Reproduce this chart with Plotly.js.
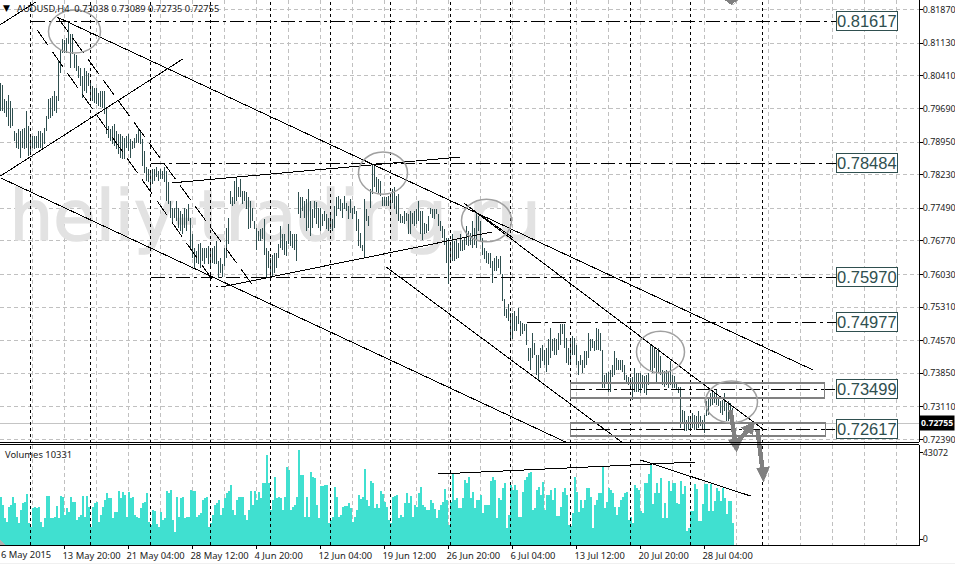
<!DOCTYPE html>
<html>
<head>
<meta charset="utf-8">
<script src="https://cdn.plot.ly/plotly-3.0.0.min.js"></script>
<style>html,body{margin:0;padding:0;background:#fff;overflow:hidden}#c{width:955px;height:564px}
.scatterlayer path.js-line,.shapelayer path,.gridlayer path{shape-rendering:crispEdges}
.shapelayer path[d*="A"]{shape-rendering:auto}
.scatterlayer .textpoint text{stroke:#e2e2e2;stroke-width:1.4px}</style>
</head>
<body>
<div id="c"></div>
<script>
const highs = [
.8026,.8021,.7990,.7986,.7999,.7986,.7971,.7920,.7915,.7924,
.7920,.7924,.7926,.7964,.7931,.7913,.7909,.7909,.7909,.7920,
.7920,.7915,.7926,.7953,.7990,.7993,.7997,.8008,.7997,.8074,
.8097,.8121,.8119,.8125,.8158,.8134,.8134,.8090,.8086,.8063,
.8059,.8041,.8059,.8052,.8048,.8024,.8019,.8015,.8013,.8004,.8008,
.8008,.8008,.7971,.7931,.7924,.7931,.7935,.7920,.7913,.7913,.7909,
.7904,.7909,.7913,.7902,.7898,.7904,.7913,.7926,.7920,.7902,.7875,
.7839,.7835,.7832,.7835,.7835,.7839,.7832,.7835,.7832,.7839,
.7832,.7806,.7765,.7750,.7750,.7765,.7750,.7743,.7736,.7750,
.7747,.7758,.7728,.7692,.7662,.7655,.7670,.7673,.7662,.7662,
.7662,.7666,.7662,.7662,.7666,.7677,.7633,.7640,.7625,.7662,
.7706,.7728,.7787,.7773,.7809,.7818,.7795,.7813,.7787,.7787,
.7784,.7773,.7765,.7750,.7721,.7706,.7699,.7703,.7706,.7725,
.7662,.7655,.7640,.7647,.7651,.7651,.7670,.7710,.7692,.7692,
.7677,.7714,.7699,.7692,.7692,.7692,.7784,.7773,.7773,.7765,
.7769,.7791,.7765,.7747,.7765,.7762,.7750,
.7750,.7736,.7743,.7736,.7728,.7736,.7725,.7754,.7773,.7776,
.7769,.7761,.7776,.7761,.7754,.7769,.7750,.7754,.7743,.7725,
.7695,.7669,.7769,.7747,.7732,.7791,.7846,.7846,.7817,.7813,
.7809,.7773,.7773,.7773,.7776,.7776,.7791,.7795,.7776,.7780,
.7736,.7732,.7743,.7739,.7736,.7743,.7739,.7743,.7747,.7765,
.7743,.7743,.7717,.7714,.7732,.7750,.7747,.7747,.7747,.7736,
.7721,.7710,.7703,.7684,.7684,.7673,.7692,.7677,.7680,.7673,
.7692,.7680,.7684,.7710,.7699,.7695,.7721,.7706,.7739,.7732,
.7721,.7684,.7662,.7655,.7651,.7651,.7633,.7640,.7644,.7636,
.7644,.7603,.7548,.7526,.7537,.7518,.7518,.7522,.7511,.7530,
.7500,.7496,.7493,.7494,.7441,.7441,.7474,.7452,.7426,.7426,
.7441,.7448,.7437,.7441,.7460,.7485,.7460,.7463,.7460,.7474,
.7493,.7494,.7493,.7463,.7441,.7463,.7467,.7463,.7448,.7412,
.7426,.7415,.7434,.7434,.7474,.7460,.7460,.7456,.7485,.7482,
.7474,.7437,.7382,.7386,.7389,.7393,.7404,.7434,.7419,.7415,
.7415,.7415,.7404,.7382,.7378,.7375,.7378,.7397,.7386,.7386,
.7386,.7381,.7379,.7382,.7386,.7448,.7448,.7441,.7437,.7441,
.7423,.7393,.7390,.7393,.7390,.7412,.7382,.7379,.7367,.7356,
.7356,.7305,.7301,.7283,.7290,.7290,.7298,.7294,.7290,.7301,
.7290,.7283,.7294,.7323,.7331,.7342,.7349,.7345,.7349,.7331,
.7323,.7327,.7342,.7320,.7323,.7320,.7309];
const lows = [
.7964,.7964,.7959,.7951,.7931,.7926,.7931,.7898,.7882,.7880,
.7860,.7882,.7880,.7882,.7864,.7869,.7882,.7880,.7882,.7882,
.7882,.7880,.7891,.7920,.7946,.7948,.7953,.7964,.7959,.7986,
.8048,.8092,.8092,.8092,.8112,.8059,.8090,.8059,.8052,.8037,
.8019,.7993,.8008,.8002,.8019,.7990,.7986,.7982,.7979,.7975,.7973,
.7971,.7957,.7913,.7904,.7898,.7891,.7887,.7880,.7869,.7860,.7858,
.7858,.7882,.7875,.7860,.7880,.7882,.7893,.7893,.7891,.7842,.7827,
.7809,.7806,.7791,.7802,.7809,.7817,.7809,.7813,.7813,.7806,
.7765,.7758,.7728,.7717,.7728,.7721,.7706,.7699,.7692,.7706,
.7699,.7721,.7662,.7640,.7618,.7629,.7625,.7618,.7633,.7625,
.7640,.7625,.7618,.7629,.7625,.7625,.7596,.7607,.7597,.7622,
.7640,.7670,.7758,.7754,.7758,.7765,.7773,.7773,.7758,.7765,
.7747,.7703,.7706,.7721,.7703,.7658,.7677,.7677,.7681,.7647,
.7596,.7618,.7600,.7600,.7607,.7618,.7640,.7662,.7658,.7647,
.7644,.7670,.7666,.7662,.7658,.7633,.7736,.7728,.7743,.7728,
.7699,.7706,.7688,.7706,.7728,.7714,.7706,
.7699,.7710,.7721,.7703,.7699,.7703,.7699,.7706,.7732,.7747,
.7743,.7728,.7747,.7743,.7725,.7739,.7725,.7736,.7699,.7666,
.7662,.7655,.7640,.7721,.7710,.7750,.7780,.7795,.7784,.7780,
.7776,.7754,.7754,.7754,.7754,.7750,.7761,.7747,.7736,.7721,
.7717,.7717,.7714,.7721,.7692,.7692,.7714,.7710,.7714,.7721,
.7692,.7680,.7692,.7695,.7699,.7736,.7728,.7725,.7736,.7710,
.7699,.7684,.7669,.7629,.7581,.7629,.7633,.7633,.7636,.7640,
.7655,.7655,.7658,.7669,.7666,.7669,.7662,.7669,.7662,.7699,
.7677,.7647,.7636,.7629,.7625,.7618,.7585,.7611,.7611,.7618,
.7603,.7544,.7511,.7507,.7500,.7460,.7460,.7478,.7478,.7493,
.7467,.7471,.7478,.7448,.7412,.7393,.7419,.7426,.7382,.7371,
.7397,.7412,.7404,.7389,.7404,.7419,.7434,.7426,.7426,.7437,
.7448,.7471,.7441,.7408,.7404,.7408,.7426,.7426,.7404,.7382,
.7404,.7386,.7397,.7404,.7419,.7434,.7441,.7434,.7437,.7437,
.7434,.7353,.7353,.7364,.7345,.7345,.7378,.7382,.7393,.7393,
.7393,.7389,.7371,.7364,.7360,.7349,.7327,.7345,.7345,.7345,
.7342,.7353,.7342,.7338,.7360,.7393,.7386,.7397,.7367,.7386,
.7382,.7360,.7356,.7360,.7353,.7360,.7353,.7353,.7349,.7342,
.7264,.7275,.7257,.7257,.7261,.7261,.7264,.7261,.7261,.7264,
.7268,.7261,.7253,.7290,.7294,.7312,.7316,.7320,.7316,.7312,
.7298,.7294,.7301,.7279,.7279,.7301,.72735];
const volumes = [
21900,18100,12100,10600,17400,18100,21900,18900,12800,9800,15900,18900,19600,23100,9800,8300,
16600,17400,16600,17100,10600,8300,12100,22200,22200,12100,12100,12800,17700,12100,22200,21600,
13600,16600,15100,21600,19600,19600,11300,12800,13600,22200,12800,22200,17400,8300,17400,18900,
19600,10600,13600,17400,20400,23700,21100,21100,12100,15100,15100,24500,21100,24200,22700,12800,
24200,21100,21900,13600,12800,12100,16600,18900,19600,23400,10600,9100,15900,15600,9500,8300,
15100,11300,12100,24600,23400,24900,11300,6000,21900,12800,21100,21600,12100,12800,12800,24900,
24600,24600,12800,13600,14300,20400,21100,21600,8000,9800,13600,18100,18900,20400,13600,16600,
21100,23400,24600,27200,15900,13600,20400,21900,21900,21900,13600,11300,15900,24600,18100,24600,
20400,24200,21100,27900,27900,40800,27900,15900,20400,31000,21100,21900,21100,15900,21900,35500,
34000,15900,17400,18100,21900,43000,31700,31700,12800,21900,12800,33200,30700,30200,18100,12100,
26700,26900,27200,27200,9800,11300,12800,26100,21600,12800,13600,17400,17700,17700,18900,16600,
10600,12800,15900,22700,20700,21600,34300,20400,17700,29000,28200,16600,18600,16600,24600,23100,
19600,17400,11300,9800,21600,22200,22700,12100,13600,12800,19200,23400,19200,22200,12800,18100,
17400,23400,26400,18100,17100,15900,15900,20400,18900,16200,12100,15900,18100,19600,25200,20400,
9100,19600,32500,20400,21100,16600,16600,21100,29400,27900,31000,21100,24200,16600,20400,20400,
22700,14300,18100,18100,18100,29100,31000,29400,12100,21100,20400,25700,27900,7600,13600,27200,
24900,27200,24900,12800,12800,24200,29400,31000,32800,33200,15900,16600,24900,26400,22700,28700,
15900,22700,22700,24900,20400,25700,13100,13100,17400,24200,25700,22700,9100,8600,14300,31000,
24200,15100,20400,16600,20400,25700,25700,21900,7600,18100,20400,23400,23400,35500,16600,19600,
25700,24900,23400,17400,13600,17400,20400,21900,23400,24200,11300,12800,9800,27200,25700,24900,
15400,14600,28200,28200,32000,36500,18400,23700,28200,23700,30500,12400,19200,12400,29000,24500,
28200,28200,19200,18400,29000,23000,26700,6300,7900,15400,15400,27500,25200,10900,10900,18400,
27500,27500,15400,27500,15400,19900,26000,24500,19900,26000,21400,13900,19900,19900,10100];

const firstDateLabel = '6 May 2015';
const xTickBars = [32,64,96,128,160,192,224,256,288,320,352];
const xTickLabels = ['13 May 20:00','21 May 04:00','28 May 12:00','4 Jun 20:00','12 Jun 04:00','19 Jun 12:00','26 Jun 20:00','6 Jul 04:00','13 Jul 12:00','20 Jul 20:00','28 Jul 04:00'];
const priceTicks = [.8187,.8113,.8041,.7969,.7895,.7823,.7749,.7677,.7603,.7531,.7457,.7385,.7311,.7239];
const volumeTickValues = [2720,41700];
const volumeTickLabels = ['0','43072'];
const periodSeparators = [15,45,75,105,135,165,195,225,255,285,315,345,381];
const levels = [.81617,.78484,.75970,.74977,.73499,.72617];
const levelStarts = [15,75,75,263,285,285];
const levelEnd = 417.5;
const lastPrice = .72755;
const solidLines = [
  [[0,17.5],[.8154,.8203]],
  [[0,91.5],[.7820,.8079]],
  [[28.5,406.5],[.8170,.7392]],
  [[0,282.5],[.7816,.72337]],
  [[86,230],[.7805,.7862]],
  [[110,246],[.7575,.7697]],
  [[193,310.5],[.7619,.72337]],
  [[231.5,381.5],[.7761,.7261]],
  [[239,256.5],[.7737,.7683]]
];
const dashedLines = [
  [[18.5,108.5],[.8141,.7575]],
  [[28.5,126.5],[.8170,.7577]]
];
const volumeLines = [
  [[219,347.5],[32160,37600]],
  [[320,375],[38500,22200]]
];
const zones = [[285,412,.7364,.7331],[285,412.5,.7276,.7247]];
const ellipses = [[24,50,.8186,.8091],[179,203.5,.7873,.7780],[230.5,255.5,.7769,.7675],[318,342,.7478,.7386],[352.5,378.5,.7368,.7276]];
const arrowShafts = [
  [[365,.7304],[367.5,.7231]],
  [[368.5,.7234],[375,.7267]],
  [[378.5,.7260],[381,.7172]]
];
const arrowHeads = [
  [[364,.7238],[371.5,.7245],[368,.7212]],
  [[370,.7265],[376,.7249],[377,.7278]],
  [[378,.7176],[384.5,.7179],[381.5,.7146]],
  [[362,.8208],[368.5,.8208],[365.5,.8197]]
];

const H = 545, mainPx = 442, lowerPx = 100.5;
const pTop = .8208, pBot = .72337;
const priceToPaper = p => 1 - ((pTop - p) / (pTop - pBot) * mainPx) / H;
const pxToPaper = y => 1 - y / H;
const UI = 'Noto Sans, sans-serif';
const ink = '#2f4f4f';

const bx = [], by = [];
highs.forEach((h,i)=>{ bx.push(i,i,null); by.push(lows[i],h,null); });
const barIdx = volumes.map((_,i)=>i);

const traces = [];
traces.push({type:'scatter',mode:'text',x:[4.5],y:[.7716],text:['heliy-trading.ru'],textposition:'middle right',
  textfont:{family:'DejaVu Sans, sans-serif',size:69,color:'#e2e2e2'},xaxis:'x',yaxis:'y',hoverinfo:'skip'});
traces.push({type:'bar',x:barIdx,y:volumes,offset:-0.25,width:1,marker:{color:'#40E0D0',line:{width:0}},xaxis:'x',yaxis:'y2',hoverinfo:'skip'});
traces.push({type:'scatter',mode:'lines',x:bx,y:by,connectgaps:false,line:{color:ink,width:1},xaxis:'x',yaxis:'y',hoverinfo:'skip'});
traces.push({type:'scatter',mode:'lines',x:[-0.25,459.25],y:[lastPrice,lastPrice],line:{color:'#c4c4c4',width:1},xaxis:'x',yaxis:'y',hoverinfo:'skip'});
solidLines.forEach(l=>traces.push({type:'scatter',mode:'lines',x:l[0],y:l[1],line:{color:'#000',width:1},xaxis:'x',yaxis:'y',hoverinfo:'skip'}));
dashedLines.forEach(l=>traces.push({type:'scatter',mode:'lines',x:l[0],y:l[1],line:{color:'#000',width:1,dash:'18px,8px'},xaxis:'x',yaxis:'y',hoverinfo:'skip'}));
volumeLines.forEach(l=>traces.push({type:'scatter',mode:'lines',x:l[0],y:l[1],line:{color:'#000',width:1},xaxis:'x',yaxis:'y2',hoverinfo:'skip'}));
levels.forEach((v,k)=>traces.push({type:'scatter',mode:'lines',x:[levelStarts[k],levelEnd],y:[v,v],line:{color:'#000',width:1,dash:'14px,4px,3px,4px'},xaxis:'x',yaxis:'y',hoverinfo:'skip'}));

const shapes = [];
periodSeparators.forEach(s=>shapes.push({type:'line',xref:'x',yref:'paper',x0:s,x1:s,y0:0,y1:1,line:{color:'#000',width:1,dash:'3px,3px'}}));
zones.forEach(z=>shapes.push({type:'rect',xref:'x',yref:'y',x0:z[0],x1:z[1],y0:z[2],y1:z[3],line:{color:'#808080',width:1.5}}));
ellipses.forEach(e=>shapes.push({type:'circle',xref:'x',yref:'y',x0:e[0],x1:e[1],y0:e[2],y1:e[3],line:{color:'#a0a0a0',width:1.5}}));
arrowShafts.forEach(a=>shapes.push({type:'line',xref:'x',yref:'paper',x0:a[0][0],x1:a[1][0],y0:priceToPaper(a[0][1]),y1:priceToPaper(a[1][1]),line:{color:'#808080',width:4.5}}));
arrowHeads.forEach(a=>{
  const d = a.map((p,i)=>(i?'L':'M')+p[0]+' '+priceToPaper(p[1])).join(' ')+' Z';
  shapes.push({type:'path',xref:'x',yref:'paper',path:d,fillcolor:'#808080',line:{color:'#808080',width:0.5}});
});
shapes.push({type:'line',xref:'paper',yref:'paper',x0:0,x1:1,y0:pxToPaper(442),y1:pxToPaper(442),line:{color:'#000',width:1}});
shapes.push({type:'line',xref:'paper',yref:'paper',x0:0,x1:1,y0:pxToPaper(444.5),y1:pxToPaper(444.5),line:{color:'#000',width:1}});
shapes.push({type:'rect',xref:'paper',yref:'paper',x0:0,x1:955/919,y0:pxToPaper(564),y1:pxToPaper(562.5),fillcolor:'#f0f0f0',line:{width:0}});
shapes.push({type:'path',xref:'paper',yref:'paper',path:'M0 '+pxToPaper(539)+' L'+(5/919)+' '+pxToPaper(544.5)+' L0 '+pxToPaper(544.5)+' Z',fillcolor:'#b0b0b0',line:{width:0}});

const annotations = [];
levels.forEach(v=>annotations.push({xref:'x',yref:'y',x:levelEnd,y:v,xanchor:'left',yanchor:'middle',showarrow:false,
  text:v.toFixed(5),font:{family:'Liberation Sans, Arial, sans-serif',size:16.5,color:ink},bgcolor:'#fff',bordercolor:ink,borderwidth:1,borderpad:0}));
annotations.push({xref:'paper',yref:'paper',x:1,y:priceToPaper(lastPrice),xanchor:'left',yanchor:'middle',showarrow:false,
  text:'<b>'+lastPrice.toFixed(5)+'</b>',font:{family:UI,size:8.7,color:'#fff'},bgcolor:'#000',borderpad:1});
annotations.push({xref:'paper',yref:'paper',x:16/919,y:pxToPaper(8),xanchor:'left',yanchor:'middle',showarrow:false,
  text:'AUDUSD,H4  0.73038 0.73089 0.72735 0.72755',font:{family:UI,size:9.3,color:'#222'},borderpad:0});
annotations.push({xref:'paper',yref:'paper',x:2/919,y:pxToPaper(8),xanchor:'left',yanchor:'middle',showarrow:false,
  text:'▼',font:{family:'DejaVu Sans',size:9,color:'#000'},borderpad:0});
annotations.push({xref:'paper',yref:'paper',x:4/919,y:pxToPaper(454),xanchor:'left',yanchor:'middle',showarrow:false,
  text:'Volumes 10331',font:{family:UI,size:9.4,color:'#222'},borderpad:0});
annotations.push({xref:'paper',yref:'paper',x:0,y:pxToPaper(555),xanchor:'left',yanchor:'middle',showarrow:false,
  text:firstDateLabel,font:{family:UI,size:9.4,color:'#222'},borderpad:0});

const grid = {showgrid:true,gridcolor:'#c0c0c0',griddash:'4px,3px',gridwidth:1,zeroline:false};
const layout = {
  width:955,height:564,margin:{l:0,r:36,t:0,b:19,pad:0},
  paper_bgcolor:'#fff',plot_bgcolor:'#fff',showlegend:false,hovermode:false,bargap:0,
  xaxis:Object.assign({},grid,{domain:[0,1],range:[-0.25,459.25],anchor:'y2',tickmode:'array',tickvals:xTickBars,ticktext:xTickLabels,
    ticks:'outside',ticklen:3,tickcolor:'#000',ticklabelposition:'outside right',ticklabelshift:-3,ticklabelstandoff:2,showline:true,linecolor:'#000',linewidth:1,
    minor:{tick0:0,dtick:16,showgrid:true,gridcolor:'#c0c0c0',griddash:'4px,3px',gridwidth:1,ticks:''},
    tickfont:{family:UI,size:9.4,color:'#222'},tickangle:0}),
  yaxis:Object.assign({},grid,{domain:[(H-mainPx)/H,1],range:[pBot,pTop],anchor:'x',side:'right',tickmode:'array',tickvals:priceTicks,
    ticktext:priceTicks.map(v=>v.toFixed(5)),ticks:'outside',ticklen:3,tickcolor:'#000',ticklabelstandoff:-2,showline:true,linecolor:'#000',linewidth:1,
    tickfont:{family:UI,size:8.9,color:'#222'}}),
  yaxis2:{domain:[0,lowerPx/H],range:[0,lowerPx*453],anchor:'x',side:'right',tickmode:'array',tickvals:volumeTickValues,ticktext:volumeTickLabels,
    showgrid:false,zeroline:false,ticks:'outside',ticklen:3,tickcolor:'#000',ticklabelstandoff:-2,showline:true,linecolor:'#000',linewidth:1,
    tickfont:{family:UI,size:8.9,color:'#222'}},
  shapes,annotations
};
Plotly.newPlot('c',traces,layout,{displayModeBar:false,staticPlot:true});
</script>
</body>
</html>
